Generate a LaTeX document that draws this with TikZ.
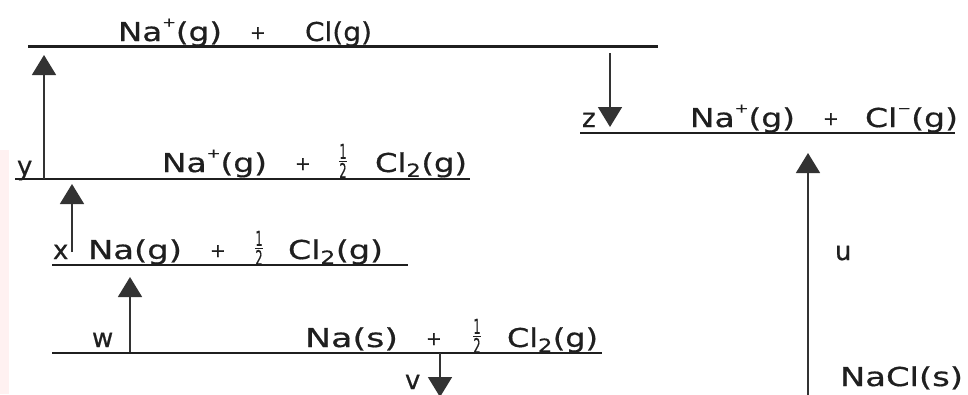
\documentclass[tikz,border=0pt]{standalone}
\usepackage{fontspec}
\setmainfont{DejaVu Sans}[FakeBold=0.6]
\usepackage{graphicx}
\usetikzlibrary{arrows.meta}
\newcommand{\fitw}[2]{\resizebox{#1}{\height}{#2}}
\newcommand{\halfsym}{\resizebox{10pt}{23pt}{$\frac{\hbox{1}}{\hbox{2}}$}}
\newcommand{\chg}[1]{\raisebox{0.55em}{\fontsize{13}{13}\selectfont #1}}
\tikzset{
  level/.style={line width=2.6pt, draw=black!88},
  enarrow/.style={line width=1.6pt, draw=black!80, -{Triangle[width=24pt,length=20pt]}},
  txt/.style={anchor=base west, inner sep=0pt, outer sep=0pt, font=\fontsize{26}{30}\selectfont, text=black!88},
  plus/.style={anchor=base west, inner sep=0pt, outer sep=0pt, font=\fontsize{19}{21}\selectfont, text=black!88},
  frac/.style={anchor=center, inner sep=0pt, outer sep=0pt, text=black!88},
}
\begin{document}
\begin{tikzpicture}[x=1pt,y=-1pt]
\useasboundingbox (0,0) rectangle (968,394);
\fill[pink!22] (0,150) rectangle (9,394);

% level lines
\coordinate (L1a) at (28,46.5);  \coordinate (L1b) at (658,46.5);
\coordinate (L2a) at (15,179);   \coordinate (L2b) at (470,179);
\coordinate (L3a) at (52,265);   \coordinate (L3b) at (408,265);
\coordinate (L4a) at (52,353);   \coordinate (L4b) at (602,353);
\coordinate (L5a) at (580,133);  \coordinate (L5b) at (955,133);
\draw[level] (L1a) -- (L1b);
\draw[level] (L2a) -- (L2b);
\draw[level] (L3a) -- (L3b);
\draw[level] (L4a) -- (L4b);
\draw[level] (L5a) -- (L5b);

% arrows
\coordinate (ys) at (44,179);  \coordinate (ye) at (44,55);
\coordinate (xs) at (72,252);  \coordinate (xe) at (72,184);
\coordinate (ws) at (130,352); \coordinate (we) at (130,277);
\coordinate (vs) at (440,353); \coordinate (ve) at (440,397);
\coordinate (zs) at (610,53);  \coordinate (ze) at (610,127);
\coordinate (us) at (808,396); \coordinate (ue) at (808,153);
\draw[enarrow] (ys) -- (ye);
\draw[enarrow] (xs) -- (xe);
\draw[enarrow] (ws) -- (we);
\draw[enarrow] (vs) -- (ve);
\draw[enarrow] (zs) -- (ze);
\draw[enarrow] (us) -- (ue);

% level 1
\node[txt] (t1a) at (118,41) {\fitw{104pt}{Na\chg{+}(g)}};
\node[plus] (t1b) at (250,39) {+};
\node[txt] (t1c) at (305,41) {\fitw{67pt}{Cl(g)}};

% level 2
\node[txt] (t2a) at (162,172) {\fitw{105pt}{Na\chg{+}(g)}};
\node[plus] (t2b) at (295,170) {+};
\node[frac] (t2c) at (343,161) {\halfsym};
\node[txt] (t2d) at (375,172) {\fitw{92pt}{Cl\textsubscript{2}(g)}};

% level 3
\node[txt] (t3a) at (88,259) {\fitw{94pt}{Na(g)}};
\node[plus] (t3b) at (210,257) {+};
\node[frac] (t3c) at (259,248) {\halfsym};
\node[txt] (t3d) at (288,259) {\fitw{95pt}{Cl\textsubscript{2}(g)}};

% level 4
\node[txt] (t4a) at (305,347) {\fitw{93pt}{Na(s)}};
\node[plus] (t4b) at (426,345) {+};
\node[frac] (t4c) at (477,336) {\halfsym};
\node[txt] (t4d) at (507,347) {\fitw{91pt}{Cl\textsubscript{2}(g)}};

% level 5
\node[txt] (t5a) at (690,127) {\fitw{105pt}{Na\chg{+}(g)}};
\node[plus] (t5b) at (823,125) {+};
\node[txt] (t5c) at (865,127) {\fitw{93pt}{Cl\chg{−}(g)}};

% step labels
\node[txt] (ly) at (17,175) {y};
\node[txt] (lx) at (53,259) {x};
\node[txt] (lw) at (92,347) {w};
\node[txt] (lv) at (405,389) {v};
\node[txt] (lz) at (582,127) {z};
\node[txt] (lu) at (835,260) {u};
\node[txt] (nacl) at (840,386) {\fitw{123pt}{NaCl(s)}};
\end{tikzpicture}
\end{document}
